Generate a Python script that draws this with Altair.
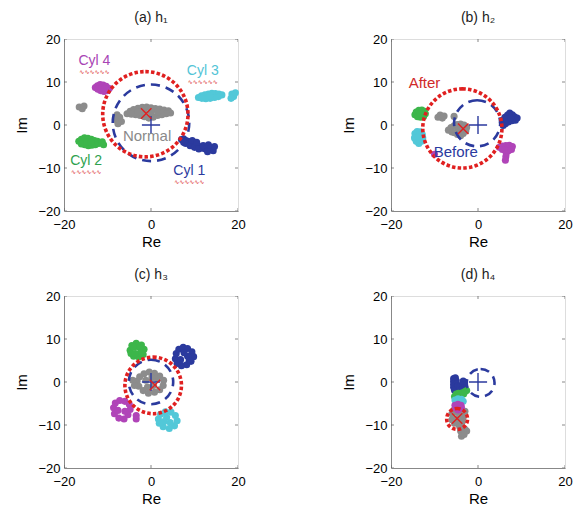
import altair as alt
import pandas as pd

# ---------------- data ----------------
GROUPS = ["Normal", "Cyl 1", "Cyl 2", "Cyl 3", "Cyl 4"]
GROUP_COLORS = ["#8c8c8c", "#2b3a9e", "#3cb64a", "#52c8d8", "#b044b8"]

# panel (a) h1
a_normal_x = [-5.5, -4.8, -4.0, -3.0, -2.0, -1.0, 0.0, 1.0, 2.0, 3.0, 4.0, 4.5, 3.5, 2.5, 1.5, 0.5, -0.5, -1.5, -2.5, -3.5, -4.5, -3.0, -1.5, 0.0, 1.5, -16.5, -15.8, -15.4, -7.8, -7.2, -8.2, -6.8, -7.6]
a_normal_y = [2.6, 3.2, 3.6, 3.9, 4.1, 4.2, 4.0, 3.8, 3.7, 3.5, 3.3, 2.8, 2.6, 2.4, 2.2, 1.8, 1.6, 1.9, 2.2, 2.4, 2.5, 3.0, 3.0, 3.0, 3.0, 4.2, 3.8, 4.4, 2.4, 1.8, 1.2, 0.8, 0.3]
a_cyl1_x = [7.0, 7.5, 8.0, 8.5, 9.0, 9.5, 10.0, 10.5, 11.0, 11.5, 12.0, 12.5, 8.0, 9.0, 10.0, 11.0, 9.5, 10.5, 7.5, 12.0, 13.2, 13.8, 14.3, 13.0, 14.6]
a_cyl1_y = [-3.4, -3.2, -3.6, -3.8, -4.0, -4.2, -4.5, -4.7, -5.0, -5.2, -5.4, -5.6, -4.3, -4.8, -5.2, -5.6, -3.6, -4.0, -4.0, -4.8, -4.6, -5.3, -6.0, -6.2, -5.0]
a_cyl2_x = [-16.6, -16.0, -15.3, -14.5, -13.7, -13.0, -12.3, -12.0, -12.8, -13.6, -14.4, -15.2, -16.0, -14.8, -13.8, -11.2, -10.9]
a_cyl2_y = [-3.8, -3.3, -3.0, -3.1, -3.3, -3.6, -3.8, -4.3, -4.6, -4.7, -4.8, -4.6, -4.4, -4.0, -4.0, -3.9, -4.6]
a_cyl3_x = [10.9, 11.6, 12.4, 13.2, 14.0, 14.8, 15.6, 16.3, 15.5, 14.6, 13.6, 12.6, 11.7, 13.5, 18.6, 19.0, 19.4, 18.4]
a_cyl3_y = [6.4, 6.8, 7.0, 7.2, 7.4, 7.3, 7.2, 7.0, 6.6, 6.4, 6.2, 6.1, 6.2, 6.8, 7.2, 6.6, 7.5, 6.2]
a_cyl4_x = [-12.8, -12.3, -11.7, -11.0, -10.3, -9.6, -10.0, -10.8, -11.6, -12.2, -11.3, -10.6]
a_cyl4_y = [8.7, 9.1, 9.4, 9.3, 9.0, 8.5, 8.0, 7.8, 8.0, 8.3, 8.6, 8.5]

# panel (b) h2
b_normal_x = [-6.8, -6.2, -5.5, -4.8, -4.0, -3.2, -2.6, -2.8, -3.4, -4.0, -4.7, -5.4, -6.0, -4.5, -3.6, -9.2, -8.7, -8.2, -7.8, -5.5]
b_normal_y = [-1.2, -0.6, -0.2, 0.1, 0.2, 0.0, -0.6, -1.4, -2.0, -2.5, -2.2, -1.8, -1.6, -1.0, -1.0, 1.8, 2.3, 1.6, 2.1, 2.0]
b_cyl1_x = [5.6, 5.8, 6.2, 6.8, 7.3, 7.9, 8.4, 9.0, 8.6, 7.8, 7.0, 6.3, 6.6, 7.5, 5.8]
b_cyl1_y = [0.5, 1.2, 1.8, 2.3, 2.8, 2.4, 1.9, 1.6, 1.1, 1.0, 0.7, 0.3, 1.4, 1.6, -0.1]
b_cyl2_x = [-14.5, -14.2, -13.6, -12.9, -12.3, -12.1, -12.5, -13.2, -13.9, -13.3]
b_cyl2_y = [2.4, 3.0, 3.4, 3.5, 3.2, 2.6, 2.0, 1.8, 1.9, 2.6]
b_cyl3_x = [-14.5, -14.0, -13.3, -12.8, -12.7, -13.0, -13.6, -14.2, -14.6, -13.7]
b_cyl3_y = [-2.0, -1.5, -1.6, -2.2, -3.0, -3.8, -4.3, -3.8, -3.0, -2.8]
b_cyl4_x = [4.9, 5.6, 6.4, 7.2, 7.9, 7.7, 7.0, 6.3, 5.6, 6.5, 6.4, 6.3, -10.0]
b_cyl4_y = [-5.2, -4.9, -4.8, -4.7, -5.0, -5.7, -6.0, -5.9, -5.7, -6.6, -7.4, -8.2, -6.8]

# panel (c) h3
c_normal_x = [-3.2, -2.6, -1.6, -0.4, 0.8, 2.0, 2.9, 2.8, 2.0, 0.8, -0.6, -1.8, -2.8, -1.2, 0.6, 1.4, -0.8, 0.2, -4.2, -3.8]
c_normal_y = [0.2, 1.2, 1.9, 2.3, 2.0, 1.4, 0.4, -0.8, -1.8, -2.4, -2.6, -2.0, -1.0, 0.4, -0.8, 0.8, -1.2, 1.0, 0.4, -0.8]
c_cyl1_x = [5.6, 5.8, 6.4, 7.4, 8.4, 9.4, 9.8, 9.2, 8.2, 7.0, 6.0, 6.8, 8.4, 7.6, 8.8]
c_cyl1_y = [5.4, 6.6, 7.6, 8.1, 7.8, 7.0, 5.9, 4.8, 4.0, 3.8, 4.3, 5.2, 6.0, 6.8, 5.0]
c_cyl2_x = [-4.8, -4.4, -3.4, -2.2, -1.6, -1.8, -2.8, -4.0, -4.6, -3.9, -2.6, -2.4, -3.6]
c_cyl2_y = [7.4, 8.5, 9.0, 8.6, 7.6, 6.4, 5.8, 6.0, 6.6, 8.1, 8.0, 6.8, 6.6]
c_cyl3_x = [1.7, 2.2, 3.3, 4.6, 5.6, 6.0, 5.4, 4.2, 2.8, 1.9, 3.6, 4.4, 3.0]
c_cyl3_y = [-8.6, -7.5, -6.9, -7.0, -7.8, -9.0, -10.2, -10.8, -10.4, -9.6, -8.2, -9.4, -9.2]
c_cyl4_x = [-8.6, -8.2, -7.2, -6.0, -5.0, -4.8, -5.3, -6.2, -7.4, -8.4, -7.6, -6.0, -3.4, -3.4]
c_cyl4_y = [-6.0, -4.9, -4.3, -4.5, -5.2, -6.4, -7.6, -8.6, -8.4, -7.4, -6.6, -6.8, -7.8, -8.6]

# panel (d) h4
d_normal_x = [-6.0, -5.6, -4.8, -3.8, -3.4, -3.6, -4.4, -5.4, -6.0, -4.8, -3.0, -3.6, -3.0, -2.6, -3.4, -4.0, -3.8, -3.2, -4.2]
d_normal_y = [-7.4, -6.6, -7.0, -7.4, -8.2, -9.2, -9.8, -9.6, -8.8, -8.5, -6.8, -10.6, -11.0, -11.4, -11.8, -11.4, -12.6, -12.2, -10.4]
d_cyl1_x = [-5.6, -5.2, -5.6, -5.0, -5.6, -5.0, -5.6, -5.0, -5.4, -4.6, -4.2, -3.4, -3.4, -3.4, -3.8]
d_cyl1_y = [0.8, 1.0, 0.2, 0.3, -0.5, -0.5, -1.2, -1.2, -1.9, -0.8, -1.2, 0.2, -0.6, -1.4, -1.8]
d_cyl2_x = [-5.4, -4.8, -4.2, -3.6, -3.0, -2.6, -4.5, -3.3, -5.0]
d_cyl2_y = [-3.4, -3.1, -2.8, -2.5, -2.2, -2.0, -2.6, -2.8, -2.8]
d_cyl3_x = [-5.3, -4.6, -3.8, -3.4, -4.2, -5.0, -4.4]
d_cyl3_y = [-4.2, -3.9, -4.0, -4.5, -4.8, -5.0, -5.3]
d_cyl4_x = [-5.3, -4.6, -3.9, -3.8, -4.5, -5.2, -4.6]
d_cyl4_y = [-5.4, -5.2, -5.4, -6.0, -6.2, -6.0, -6.5]

# circles: "before" (blue dashed) and "after" (red dotted): center x, center y, radius
before_cx = [0.0, -0.2, 0.0, 0.6]
before_cy = [0.5, 0.4, 0.0, -0.2]
before_r = [8.8, 5.3, 5.1, 3.2]
after_cx = [-1.3, -3.6, 0.5, -4.8]
after_cy = [2.5, -0.8, -0.8, -8.6]
after_r = [9.8, 9.1, 6.5, 2.4]
# centroid markers: blue + (before) and red x (after)
plus_x = [0, 0, 0, 0]
plus_y = [0, 0, 0, 0]
xmark_x = [-1.1, -3.4, 0.9, -4.8]
xmark_y = [2.7, -0.85, -0.7, -8.5]

titles = ["(a) h₁", "(b) h₂", "(c) h₃", "(d) h₄"]

# annotation labels
a_labels = ["Cyl 4", "Cyl 3", "Cyl 2", "Cyl 1", "Normal"]
a_label_x = [-13.0, 11.9, -14.9, 8.8, -0.9]
a_label_y = [14.9, 12.6, -8.4, -10.6, -2.6]
a_label_size = [14, 14, 14, 14, 15]
a_label_color = ["#a844b4", "#52c4d6", "#2ea24e", "#2b3a9e", "#8a8a8a"]
a_squiggle = [True, True, True, True, False]
b_labels = ["After", "Before"]
b_label_x = [-12.3, -5.1]
b_label_y = [9.8, -6.3]
b_label_size = [15, 15]
b_label_color = ["#d02a2a", "#2b3a9e"]

x_ticks = [-20, 0, 20]
y_ticks = [-20, -10, 0, 10, 20]

# ---------------- chart construction ----------------
W, H = 174, 172
FONT = "Liberation Sans"
BLUE = "#2b3a9e"
RED = "#e02020"

xs = alt.Scale(domain=[-20, 20], nice=False, zero=False, padding=0)
ys = alt.Scale(domain=[-20, 20], nice=False, zero=False, padding=0)
X = alt.X("x:Q", scale=xs, axis=alt.Axis(values=x_ticks, ticks=False, grid=False, title="Re",
                                          labelPadding=7, titlePadding=3, titleFontWeight="normal",
                                          labelFontSize=13, titleFontSize=15, labelFlush=False,
                                          labelOverlap=False))
Y = alt.Y("y:Q", scale=ys, axis=alt.Axis(values=y_ticks, ticks=False, grid=False, title="Im",
                                          labelPadding=4, titlePadding=8, titleFontWeight="normal",
                                          labelFontSize=13, titleFontSize=15, labelFlush=False,
                                          labelOverlap=False))


def cluster_df(parts):
    rows = []
    for grp, xv, yv in parts:
        for a, b in zip(xv, yv):
            rows.append({"x": a, "y": b, "grp": grp})
    return pd.DataFrame(rows)


def panel(i, parts, labels=None, squiggle=None):
    pts = cluster_df(parts)
    layers = []
    layers.append(
        alt.Chart(pts).mark_circle(size=50, opacity=1).encode(
            x=X, y=Y,
            color=alt.Color("grp:N", scale=alt.Scale(domain=GROUPS, range=GROUP_COLORS), legend=None),
        )
    )
    rscale = alt.Scale(type="linear", domain=[0, 40], range=[0, W], zero=True)
    bdf = pd.DataFrame({"x": [before_cx[i]], "y": [before_cy[i]], "r": [before_r[i]]})
    adf = pd.DataFrame({"x": [after_cx[i]], "y": [after_cy[i]], "r": [after_r[i]]})
    layers.append(
        alt.Chart(bdf).mark_arc(theta=0, theta2=6.2832, filled=False, stroke=BLUE, strokeWidth=2.6,
                                strokeDash=[9, 6]).encode(
            x=X, y=Y, radius=alt.Radius("r:Q", scale=rscale))
    )
    layers.append(
        alt.Chart(adf).mark_arc(theta=0, theta2=6.2832, filled=False, stroke=RED, strokeWidth=3.6,
                                strokeDash=[3.5, 2.2]).encode(
            x=X, y=Y, radius=alt.Radius("r:Q", scale=rscale))
    )
    pdf = pd.DataFrame({"x": [plus_x[i]], "y": [plus_y[i]]})
    xdf = pd.DataFrame({"x": [xmark_x[i]], "y": [xmark_y[i]]})
    layers.append(
        alt.Chart(pdf).mark_point(shape="M-1,0L1,0M0,-1L0,1", filled=False, stroke=BLUE,
                                  strokeWidth=1.4, size=330, opacity=1).encode(x=X, y=Y)
    )
    layers.append(
        alt.Chart(xdf).mark_point(shape="M-1,-1L1,1M-1,1L1,-1", filled=False, stroke=RED,
                                  strokeWidth=1.4, size=110, opacity=1).encode(x=X, y=Y)
    )
    if labels is not None:
        layers.append(
            alt.Chart(labels).mark_text(font=FONT).encode(
                x=X, y=Y, text="label:N", color=alt.Color("color:N", scale=None),
                size=alt.Size("size:Q", scale=None))
        )
    if squiggle is not None and len(squiggle):
        layers.append(
            alt.Chart(squiggle).mark_text(font="DejaVu Sans", fontSize=6, color="#d81818", dy=11).encode(
                x=X, y=Y, text=alt.value("∿∿∿∿∿∿"))
        )
    # inner tick marks (MATLAB style box ticks)
    xt = pd.DataFrame({"x": x_ticks})
    yt = pd.DataFrame({"y": y_ticks})
    for yy in [0, H]:
        layers.append(alt.Chart(xt).mark_tick(orient="vertical", size=6, thickness=1, color="#555",
                                              clip=True).encode(x=X, y=alt.value(yy)))
    for xx in [0, W]:
        layers.append(alt.Chart(yt).mark_tick(orient="horizontal", size=6, thickness=1, color="#555",
                                              clip=True).encode(y=Y, x=alt.value(xx)))
    return alt.layer(*layers).properties(
        width=W, height=H,
        title=alt.TitleParams(titles[i], font=FONT, fontSize=14, fontWeight="normal", color="#222", offset=8),
    )


a_lab = pd.DataFrame({"x": a_label_x, "y": a_label_y, "label": a_labels, "color": a_label_color,
                      "size": a_label_size})
a_sq = a_lab[a_squiggle]
b_lab = pd.DataFrame({"x": b_label_x, "y": b_label_y, "label": b_labels, "color": b_label_color,
                      "size": b_label_size})

pa = panel(0, [("Normal", a_normal_x, a_normal_y), ("Cyl 1", a_cyl1_x, a_cyl1_y), ("Cyl 2", a_cyl2_x, a_cyl2_y),
               ("Cyl 3", a_cyl3_x, a_cyl3_y), ("Cyl 4", a_cyl4_x, a_cyl4_y)], a_lab, a_sq)
pb = panel(1, [("Normal", b_normal_x, b_normal_y), ("Cyl 1", b_cyl1_x, b_cyl1_y), ("Cyl 2", b_cyl2_x, b_cyl2_y),
               ("Cyl 3", b_cyl3_x, b_cyl3_y), ("Cyl 4", b_cyl4_x, b_cyl4_y)], b_lab)
pc = panel(2, [("Normal", c_normal_x, c_normal_y), ("Cyl 1", c_cyl1_x, c_cyl1_y), ("Cyl 2", c_cyl2_x, c_cyl2_y),
               ("Cyl 3", c_cyl3_x, c_cyl3_y), ("Cyl 4", c_cyl4_x, c_cyl4_y)])
pd_ = panel(3, [("Normal", d_normal_x, d_normal_y), ("Cyl 1", d_cyl1_x, d_cyl1_y), ("Cyl 2", d_cyl2_x, d_cyl2_y),
                ("Cyl 3", d_cyl3_x, d_cyl3_y), ("Cyl 4", d_cyl4_x, d_cyl4_y)])

row1 = alt.hconcat(pa, pb, spacing=95)
row2 = alt.hconcat(pc, pd_, spacing=95)
chart = alt.vconcat(row1, row2, spacing=17).configure_view(
    stroke="#444", strokeWidth=1
).configure_axis(
    labelFont=FONT, titleFont=FONT,
    labelColor="#333", titleColor="#333", domain=False,
).configure(padding={"left": 6, "top": 2, "right": 2, "bottom": 2}, background="white")

chart.save("out.html", embed_options={"renderer": "svg", "actions": False})
